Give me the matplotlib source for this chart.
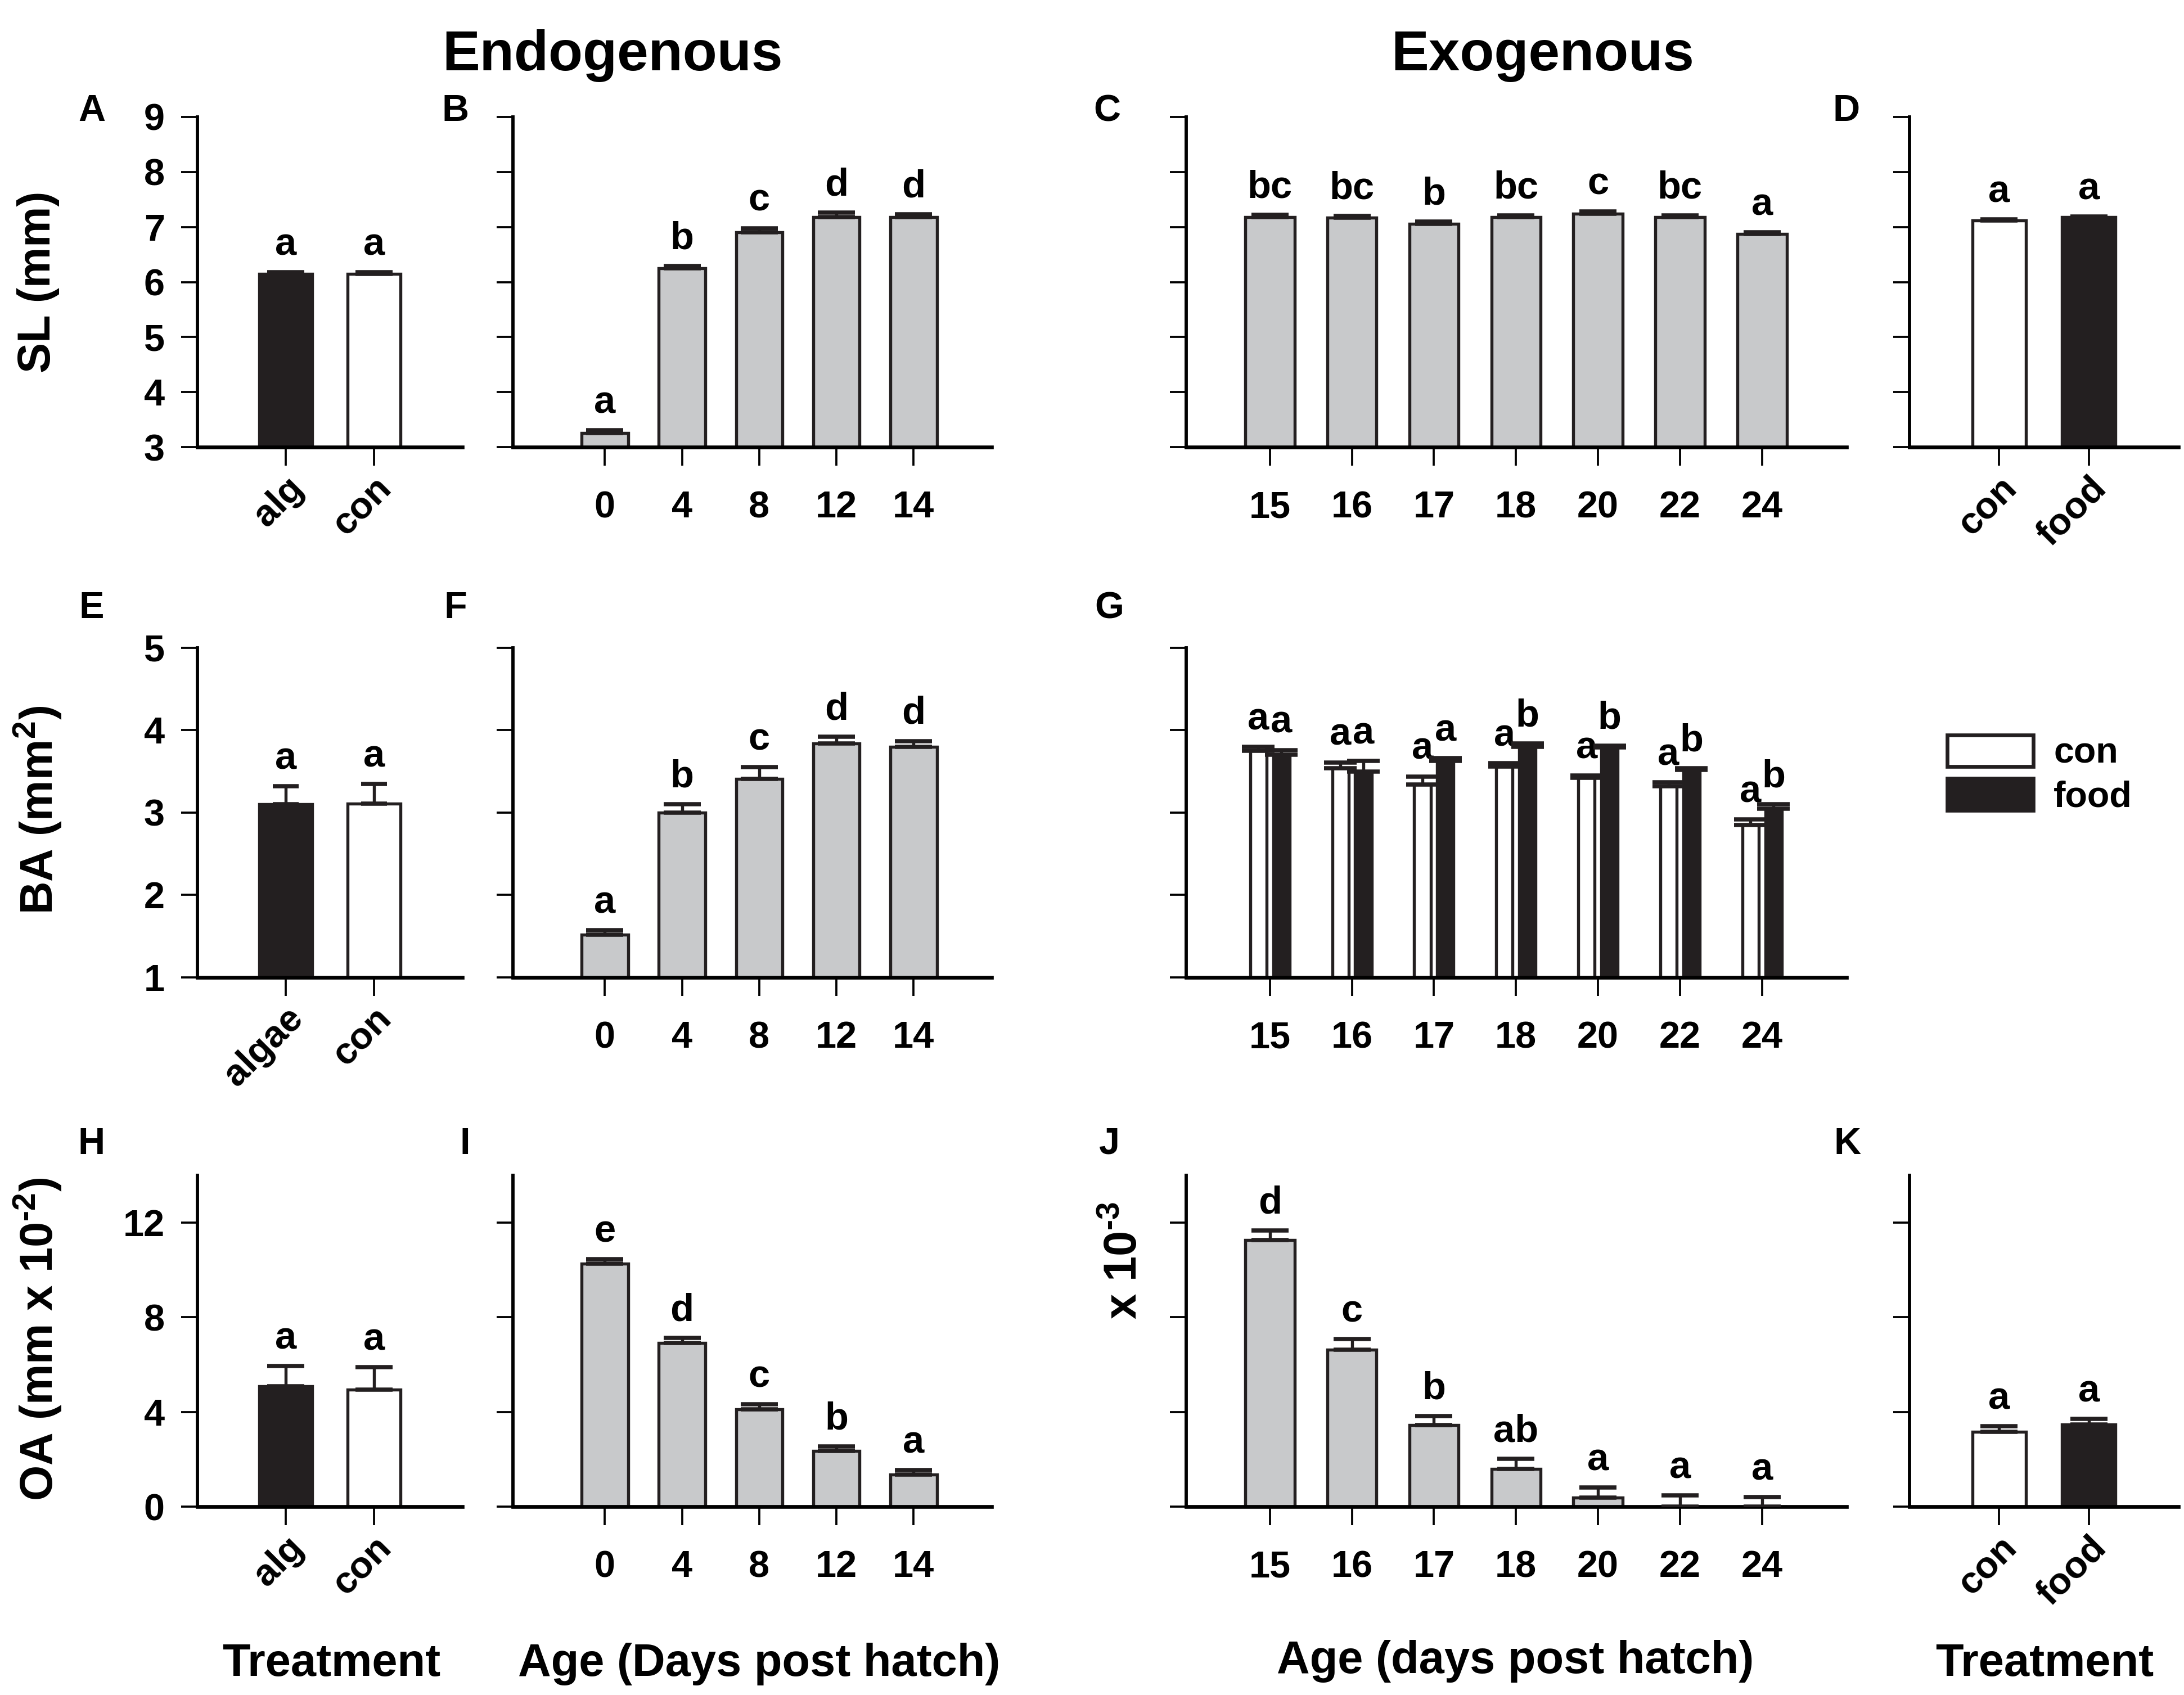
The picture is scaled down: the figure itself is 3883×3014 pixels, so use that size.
import numpy as np
import matplotlib.pyplot as plt
from matplotlib.patches import Patch

W, H, DPI = 3883, 3014, 300
FONT = ["Liberation Sans", "DejaVu Sans"]
plt.rcParams["font.family"] = FONT
plt.rcParams["font.weight"] = "bold"
plt.rcParams["mathtext.fontset"] = "custom"
plt.rcParams["mathtext.rm"] = "Liberation Sans:bold"
plt.rcParams["mathtext.bf"] = "Liberation Sans:bold"
plt.rcParams["mathtext.default"] = "bf"

GRAY = "#c8c9cb"
INK = "#231f20"

# ---- data ----
trt_labels_sl = ["alg", "con"]
trt_labels_ba = ["algae", "con"]
trt_labels_oa = ["alg", "con"]
trt_colors = [INK, "white"]

endo_days = ["0", "4", "8", "12", "14"]
exo_days = ["15", "16", "17", "18", "20", "22", "24"]

fd_labels = ["con", "food"]
fd_colors = ["white", INK]

# SL (mm)
sl_trt_mean = [6.15, 6.15]
sl_trt_err = [0.03, 0.03]
sl_trt_sig = ["a", "a"]
sl_endo_mean = [3.26, 6.25, 6.90, 7.18, 7.18]
sl_endo_err = [0.05, 0.04, 0.08, 0.08, 0.05]
sl_endo_sig = ["a", "b", "c", "d", "d"]
sl_exo_mean = [7.18, 7.17, 7.06, 7.18, 7.24, 7.18, 6.87]
sl_exo_err = [0.04, 0.03, 0.04, 0.03, 0.04, 0.03, 0.03]
sl_exo_sig = ["bc", "bc", "b", "bc", "c", "bc", "a"]
sl_fd_mean = [7.12, 7.18]
sl_fd_err = [0.02, 0.01]
sl_fd_sig = ["a", "a"]

# BA (mm^2)
ba_trt_mean = [3.10, 3.11]
ba_trt_err = [0.22, 0.24]
ba_trt_sig = ["a", "a"]
ba_endo_mean = [1.52, 3.00, 3.41, 3.84, 3.80]
ba_endo_err = [0.05, 0.10, 0.14, 0.08, 0.07]
ba_endo_sig = ["a", "b", "c", "d", "d"]
ba_con_mean = [3.75, 3.54, 3.34, 3.56, 3.42, 3.32, 2.85]
ba_con_err = [0.05, 0.07, 0.10, 0.04, 0.03, 0.05, 0.07]
ba_con_sig = ["a", "a", "a", "a", "a", "a", "a"]
ba_food_mean = [3.70, 3.50, 3.63, 3.80, 3.79, 3.52, 3.05]
ba_food_err = [0.06, 0.13, 0.03, 0.04, 0.02, 0.02, 0.05]
ba_food_sig = ["a", "a", "a", "b", "b", "b", "b"]

# OA (mm x 10^-2)
oa_trt_mean = [5.09, 4.94]
oa_trt_err = [0.85, 0.96]
oa_trt_sig = ["a", "a"]
oa_endo_mean = [10.27, 6.92, 4.12, 2.35, 1.36]
oa_endo_err = [0.19, 0.20, 0.21, 0.20, 0.19]
oa_endo_sig = ["e", "d", "c", "b", "a"]
oa_exo_mean = [11.26, 6.63, 3.44, 1.60, 0.38, 0.0, 0.0]
oa_exo_err = [0.40, 0.46, 0.38, 0.42, 0.42, 0.48, 0.41]
oa_exo_sig = ["d", "c", "b", "ab", "a", "a", "a"]
oa_fd_mean = [3.17, 3.48]
oa_fd_err = [0.23, 0.23]
oa_fd_sig = ["a", "a"]

fig = plt.figure(figsize=(W / DPI, H / DPI), dpi=DPI)


def rect(left, top, right, bottom):
    return [left / W, 1 - bottom / H, (right - left) / W, (bottom - top) / H]


rows = [(208, 795), (1152, 1738), (2090, 2679)]
cols = [(351, 822), (912, 1763), (2109, 3283), (3395, 3873)]


def style(ax, ylim, yticks, xlim, xlabels, show_ylab, rot=False):
    ax.set_ylim(*ylim)
    ax.set_xlim(*xlim)
    ax.set_yticks(yticks)
    ax.set_xticks(np.arange(len(xlabels)))
    for s in ["top", "right"]:
        ax.spines[s].set_visible(False)
    ax.spines["left"].set_linewidth(1.4)
    ax.spines["bottom"].set_linewidth(1.6)
    ax.tick_params(axis="y", direction="out", length=7, width=0.9, pad=7,
                   labelsize=16, labelleft=show_ylab)
    ax.tick_params(axis="x", direction="out", length=8, width=0.9,
                   pad=2 if rot else 10.5, labelsize=16)
    if rot:
        ax.set_xticklabels(xlabels, rotation=45, ha="right", va="top",
                           rotation_mode="anchor")
    else:
        ax.set_xticklabels(xlabels)
    for lab in ax.get_xticklabels() + ax.get_yticklabels():
        lab.set_fontweight("bold")


def bars(ax, x, means, errs, sigs, colors, width, capsize, sig_size=16.5):
    ax.bar(x, means, width=width, color=colors, edgecolor=INK,
           linewidth=1.3, zorder=2)
    ax.errorbar(x, means, yerr=[np.zeros(len(errs)), errs], fmt="none",
                ecolor=INK, elinewidth=1.3, capsize=capsize,
                capthick=1.8, zorder=3)
    for xi, m, e, s in zip(x, means, errs, sigs):
        ax.annotate(s, (xi, m + e), xytext=(0, 4), textcoords="offset points",
                    ha="center", va="bottom", fontsize=sig_size,
                    fontweight="bold")


def panel(r, c, labels, means, errs, sigs, colors, ylim, yticks, xlim,
          show_ylab=False, rot=False, capsize=8):
    ax = fig.add_axes(rect(cols[c][0], rows[r][0], cols[c][1], rows[r][1]))
    x = np.arange(len(labels))
    bars(ax, x, means, errs, sigs, colors, 0.6, capsize)
    style(ax, ylim, yticks, xlim, labels, show_ylab, rot)
    return ax


sl_lim, sl_ticks = (3, 9), np.arange(3, 10)
ba_lim, ba_ticks = (1, 5), np.arange(1, 6)
oa_lim, oa_ticks = (0, 14), [0, 4, 8, 12]

# row 1 - SL
panel(0, 0, trt_labels_sl, sl_trt_mean, sl_trt_err, sl_trt_sig, trt_colors,
      sl_lim, sl_ticks, (-1, 2), show_ylab=True, rot=True)
panel(0, 1, endo_days, sl_endo_mean, sl_endo_err, sl_endo_sig, GRAY,
      sl_lim, sl_ticks, (-1.19, 5.01))
panel(0, 2, exo_days, sl_exo_mean, sl_exo_err, sl_exo_sig, GRAY,
      sl_lim, sl_ticks, (-1.02, 7.03))
panel(0, 3, fd_labels, sl_fd_mean, sl_fd_err, sl_fd_sig, fd_colors,
      sl_lim, sl_ticks, (-1, 2), rot=True)

# row 2 - BA
panel(1, 0, trt_labels_ba, ba_trt_mean, ba_trt_err, ba_trt_sig, trt_colors,
      ba_lim, ba_ticks, (-1, 2), show_ylab=True, rot=True, capsize=5.5)
panel(1, 1, endo_days, ba_endo_mean, ba_endo_err, ba_endo_sig, GRAY,
      ba_lim, ba_ticks, (-1.19, 5.01))

axg = fig.add_axes(rect(cols[2][0], rows[1][0], cols[2][1], rows[1][1]))
xg = np.arange(len(exo_days))
bars(axg, xg - 0.14, ba_con_mean, ba_con_err, ba_con_sig, "white", 0.2, 7)
bars(axg, xg + 0.14, ba_food_mean, ba_food_err, ba_food_sig, INK, 0.2, 7)
style(axg, ba_lim, ba_ticks, (-1.02, 7.03), exo_days, False)
axg.legend(handles=[Patch(facecolor="white", edgecolor=INK, linewidth=1.6),
                    Patch(facecolor=INK, edgecolor=INK, linewidth=1.6)],
           labels=fd_labels, loc="center left", bbox_to_anchor=(0.8916, 0.5431),
           bbox_transform=fig.transFigure, frameon=False,
           handlelength=2.37, handleheight=0.97, labelspacing=0.22,
           handletextpad=0.56, borderpad=0, borderaxespad=0,
           prop={"weight": "bold", "size": 15.5})

# row 3 - OA
panel(2, 0, trt_labels_oa, oa_trt_mean, oa_trt_err, oa_trt_sig, trt_colors,
      oa_lim, oa_ticks, (-1, 2), show_ylab=True, rot=True)
panel(2, 1, endo_days, oa_endo_mean, oa_endo_err, oa_endo_sig, GRAY,
      oa_lim, oa_ticks, (-1.19, 5.01))
panel(2, 2, exo_days, oa_exo_mean, oa_exo_err, oa_exo_sig, GRAY,
      oa_lim, oa_ticks, (-1.02, 7.03))
panel(2, 3, fd_labels, oa_fd_mean, oa_fd_err, oa_fd_sig, fd_colors,
      oa_lim, oa_ticks, (-1, 2), rot=True)

# titles, axis labels, panel letters
fig.text(0.2805, 0.967, "Endogenous", ha="center", va="center", fontsize=24)
fig.text(0.7064, 0.967, "Exogenous", ha="center", va="center", fontsize=24)

ylab = dict(rotation=90, ha="center", va="center", fontsize=19.5)
fig.text(0.0175, 1 - 501 / H, "SL (mm)", **ylab)
fig.text(0.0175, 1 - 1440 / H, "BA (mm$^{2}$)", **ylab)
fig.text(0.0175, 1 - 2381 / H, "OA (mm x 10$^{\u2010 2}$)", **ylab)
fig.text(2000 / W, 1 - 2241 / H, "x 10$^{\u2010 3}$", **ylab)

xlab = dict(ha="center", va="center", fontsize=19.5)
fig.text(0.1517, 0.0183, "Treatment", **xlab)
fig.text(0.3475, 0.0183, "Age (Days post hatch)", **xlab)
fig.text(0.6938, 0.0199, "Age (days post hatch)", **xlab)
fig.text(0.9361, 0.0183, "Treatment", **xlab)

letters = [("A", 163, 198), ("B", 810, 198), ("C", 1968, 198), ("D", 3283, 198),
           ("E", 163, 1082), ("F", 810, 1082), ("G", 1972, 1082),
           ("H", 163, 2035), ("I", 827, 2035), ("J", 1972, 2035), ("K", 3285, 2035)]
for t, px, py in letters:
    fig.text(px / W, 1 - py / H, t, ha="center", va="center", fontsize=16)

fig.savefig("out.png", dpi=DPI)
